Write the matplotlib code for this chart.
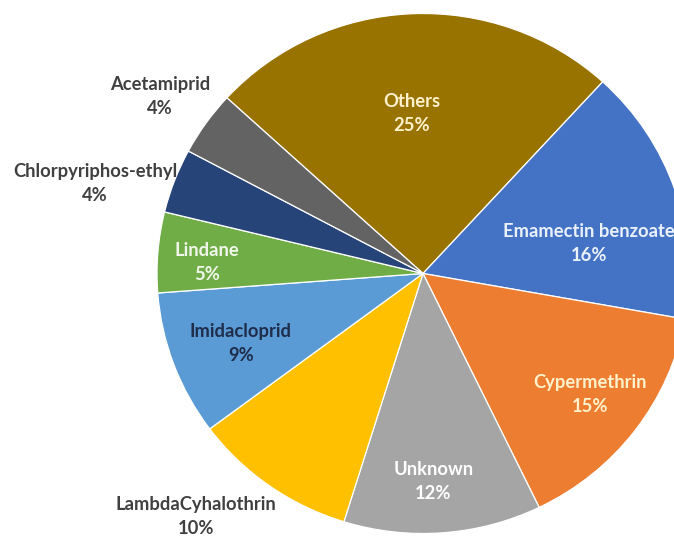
import matplotlib.pyplot as plt

# Pesticide share of detections (%)
labels = ["Others", "Emamectin benzoate", "Cypermethrin", "Unknown",
          "LambdaCyhalothrin", "Imidacloprid", "Lindane",
          "Chlorpyriphos-ethyl", "Acetamiprid"]
shares = [25, 16, 15, 12, 10, 9, 5, 4, 4]
colors = ["#997300", "#4472C4", "#ED7D31", "#A5A5A5", "#FFC000",
          "#5B9BD5", "#70AD47", "#264478", "#636363"]

# label text placement (pie radius = 1) and text colour
label_xy = [(-0.042, 0.616), (0.624, 0.115), (0.628, -0.465), (0.039, -0.801),
            (-0.853, -0.933), (-0.685, -0.271), (-0.813, 0.044),
            (-1.232, 0.347), (-0.989, 0.680)]
label_colors = ["#FFF2CC", "#EAF1FB", "#FFF2CC", "#FFFFFF", "#404040",
                "#1F2D4A", "#F0F7EA", "#404040", "#404040"]

fig = plt.figure(figsize=(6.74, 5.36), dpi=100)
ax = fig.add_axes([0, 0, 1, 1])

ax.pie(shares, colors=colors, startangle=137.5, counterclock=False,
       wedgeprops=dict(edgecolor="white", linewidth=0.9))

for name, val, (x, y), c in zip(labels, shares, label_xy, label_colors):
    ax.text(x, y, f"{name}\n{val}%", ha="center", va="center",
            fontsize=13.2, fontweight="bold", family="Lato",
            color=c, linespacing=1.5)

# slightly wider than tall, cropped on the right and bottom
ax.set_aspect("auto")
ax.set_xlim(-423 / 266, (674 - 423) / 266)
ax.set_ylim((273.5 - 536) / 260, 273.5 / 260)
ax.axis("off")

fig.savefig("out.png", dpi=100)
